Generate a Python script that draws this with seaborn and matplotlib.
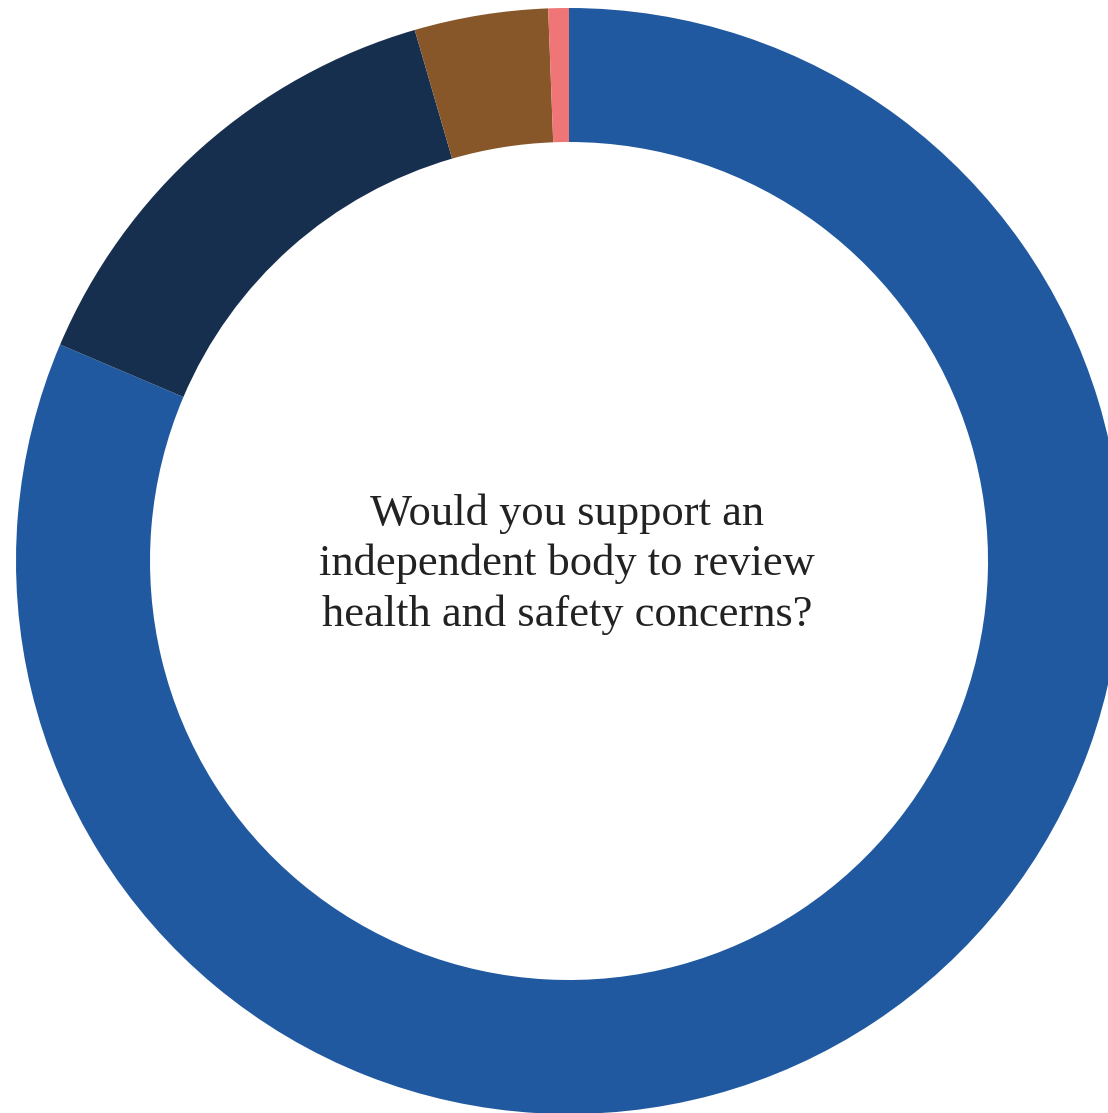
import matplotlib
matplotlib.use("Agg")
import matplotlib.pyplot as plt
import seaborn as sns

# Survey responses, clockwise from the top
answers = ["Yes", "No", "Unsure", "No answer"]
shares = [81.4, 14.1, 3.9, 0.6]
colors = ["#2059A0", "#172F4F", "#87572A", "#F07577"]
question = "Would you support an\nindependent body to review\nhealth and safety concerns?"

sns.set_style("white")
palette = sns.color_palette(colors)

W, H = 1108, 1113
fig = plt.figure(figsize=(W / 100, H / 100), dpi=100)
ax = fig.add_axes([0, 0, 1, 1])

cx, cy = 569, H - 561
outer_r = 553
ring = 134

ax.pie(shares, colors=palette, startangle=90, counterclock=False,
       center=(cx, cy), radius=outer_r,
       wedgeprops=dict(width=ring, linewidth=0, antialiased=True))
ax.set_xlim(0, W)
ax.set_ylim(0, H)
ax.set_aspect("auto")
ax.axis("off")

ax.text(cx - 2, cy - 3, question, ha="center", va="center",
        fontsize=32, family=["Liberation Serif", "DejaVu Serif"],
        color="#222222", linespacing=1.31)

fig.savefig("out.png", dpi=100, facecolor="white")
